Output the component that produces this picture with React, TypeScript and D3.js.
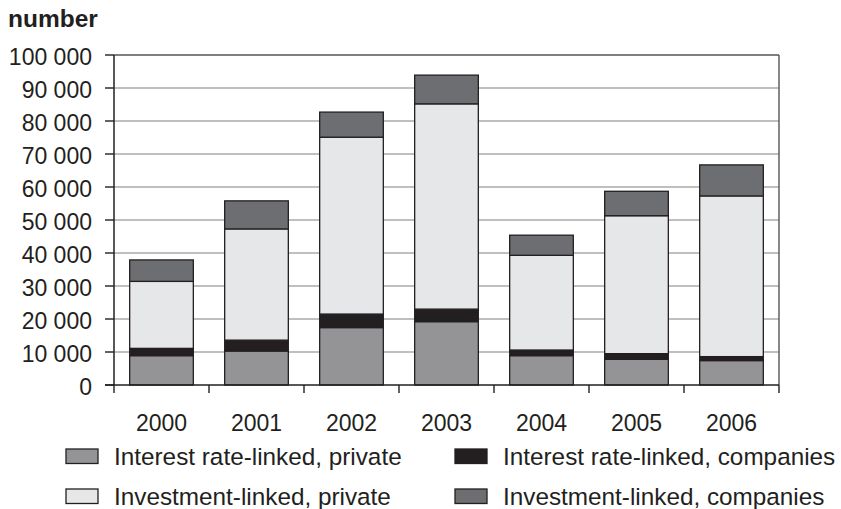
import React from "react";
import * as d3 from "d3";

// Number of contracts per year, by product type
const years = ["2000", "2001", "2002", "2003", "2004", "2005", "2006"];
const interestPrivate = [8900, 10300, 17400, 19200, 8900, 7800, 7400];
const interestCompanies = [2200, 3300, 4100, 3800, 1700, 1700, 1200];
const investmentPrivate = [20300, 33700, 53600, 62200, 28700, 41800, 48700];
const investmentCompanies = [6500, 8500, 7600, 8700, 6100, 7400, 9400];
const yTicks = [0, 10000, 20000, 30000, 40000, 50000, 60000, 70000, 80000, 90000, 100000];

const seriesKeys = ["ip", "ic", "vp", "vc"] as const;
const seriesLabels: Record<string, string> = {
  ip: "Interest rate-linked, private",
  ic: "Interest rate-linked, companies",
  vp: "Investment-linked, private",
  vc: "Investment-linked, companies",
};
const seriesColors: Record<string, string> = {
  ip: "#949497",
  ic: "#231f20",
  vp: "#e6e7e8",
  vc: "#6d6e71",
};

const W = 841;
const H = 509;
const left = 114;
const right = 779;
const top = 55;
const bottom = 385;
const ink = "#231f20";
const font = "'Liberation Sans', Arial, Helvetica, sans-serif";

const fmt = (v: number) => d3.format(",")(v).replace(/,/g, " ");

export default function App() {
  const rows = years.map((y, i) => ({
    year: y,
    ip: interestPrivate[i],
    ic: interestCompanies[i],
    vp: investmentPrivate[i],
    vc: investmentCompanies[i],
  }));
  const stacked = d3.stack<any>().keys(seriesKeys as unknown as string[])(rows);

  const x = d3.scaleBand<string>().domain(years).range([left, right]).padding(0);
  const barW = x.bandwidth() * 0.67;
  const y = d3.scaleLinear().domain([0, 100000]).range([bottom, top]);

  const legendItems = [
    { key: "ip", x: 66, y: 449 },
    { key: "ic", x: 455, y: 449 },
    { key: "vp", x: 66, y: 489 },
    { key: "vc", x: 455, y: 489 },
  ];

  return (
    <svg
      width={W}
      height={H}
      style={{ position: "absolute", left: 0, top: 0, background: "#fff" }}
      fontFamily={font}
    >
      <rect x={0} y={0} width={W} height={H} fill="#fff" />
      <text x={8} y={26.5} fontSize={24.5} fontWeight="bold" fill={ink}>
        number
      </text>

      {/* gridlines */}
      {yTicks.slice(1, -1).map((t) => (
        <line key={t} x1={left} x2={right} y1={y(t)} y2={y(t)} stroke="#aaaaaa" strokeWidth={1.4} />
      ))}

      {/* stacked bars */}
      {stacked.map((s) => (
        <g key={s.key}>
          {s.map((d, i) => (
            <rect
              key={i}
              x={(x(years[i]) as number) + (x.bandwidth() - barW) / 2}
              y={y(d[1])}
              width={barW}
              height={y(d[0]) - y(d[1])}
              fill={seriesColors[s.key]}
              stroke={ink}
              strokeWidth={1.3}
            />
          ))}
        </g>
      ))}

      {/* frame */}
      <line x1={left} x2={right} y1={top} y2={top} stroke="#555" strokeWidth={1.4} />
      <line x1={right} x2={right} y1={top} y2={bottom} stroke="#555" strokeWidth={1.4} />
      <line x1={left} x2={left} y1={top} y2={bottom} stroke={ink} strokeWidth={1.5} />
      <line x1={left - 9} x2={right} y1={bottom} y2={bottom} stroke={ink} strokeWidth={1.5} />

      {/* y axis */}
      {yTicks.map((t) => (
        <g key={t}>
          <line x1={left - 9} x2={left} y1={y(t)} y2={y(t)} stroke={ink} strokeWidth={1.4} />
          <text x={92} y={y(t) + 9.5} textAnchor="end" fontSize={23} fill={ink}>
            {fmt(t)}
          </text>
        </g>
      ))}

      {/* x axis */}
      {years.map((yr) => (
        <text
          key={yr}
          x={(x(yr) as number) + x.bandwidth() / 2}
          y={430.5}
          textAnchor="middle"
          fontSize={23}
          fill={ink}
        >
          {yr}
        </text>
      ))}
      {[...years.map((yr) => x(yr) as number), right].map((px, i) => (
        <line key={i} x1={px} x2={px} y1={bottom} y2={bottom + 8} stroke={ink} strokeWidth={1.4} />
      ))}

      {/* legend */}
      {legendItems.map((it) => (
        <g key={it.key}>
          <rect
            x={it.x}
            y={it.y}
            width={32}
            height={14.5}
            fill={seriesColors[it.key]}
            stroke={ink}
            strokeWidth={1.3}
          />
          <text x={it.x + 48} y={it.y + 16} fontSize={24.3} fill={ink}>
            {seriesLabels[it.key]}
          </text>
        </g>
      ))}
    </svg>
  );
}
